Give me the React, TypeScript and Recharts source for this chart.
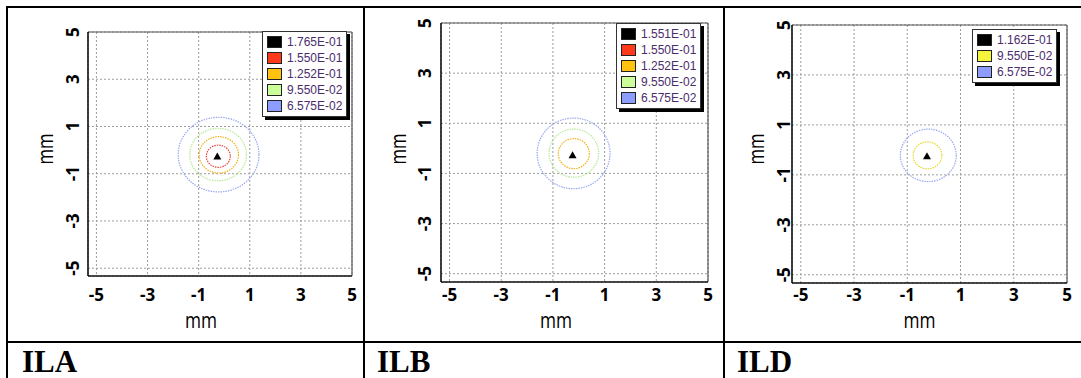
import React from 'react';
import { ScatterChart, Scatter, XAxis, YAxis, CartesianGrid, ReferenceArea, ReferenceLine, Legend, Label } from 'recharts';

// ---------- data ----------
const xTicks = [-5, -3, -1, 1, 3, 5];
const yTicks = [-5, -3, -1, 1, 3, 5];
const axisMin = -5.33;
const axisMax = 5;

const panelNames = ['ILA', 'ILB', 'ILD'];

const ilaLegendLabels = ['1.765E-01', '1.550E-01', '1.252E-01', '9.550E-02', '6.575E-02'];
const ilbLegendLabels = ['1.551E-01', '1.550E-01', '1.252E-01', '9.550E-02', '6.575E-02'];
const ildLegendLabels = ['1.162E-01', '9.550E-02', '6.575E-02'];

const ilaPeak = [{ x: -0.27, y: -0.27 }];
const ilbPeak = [{ x: -0.24, y: -0.27 }];
const ildPeak = [{ x: -0.26, y: -0.26 }];

// contour rings: legend level index, centre x, centre y, radius (mm)
const ilaRings = [
  { level: 1, cx: -0.23, cy: -0.26, r: 0.47 },
  { level: 2, cx: -0.21, cy: -0.2, r: 0.77 },
  { level: 3, cx: -0.24, cy: -0.19, r: 1.11 },
  { level: 4, cx: -0.22, cy: -0.19, r: 1.58 },
];
const ilbRings = [
  { level: 2, cx: -0.19, cy: -0.21, r: 0.6 },
  { level: 3, cx: -0.19, cy: -0.19, r: 0.96 },
  { level: 4, cx: -0.2, cy: -0.2, r: 1.41 },
];
const ildRings = [
  { level: 1, cx: -0.24, cy: -0.22, r: 0.54 },
  { level: 2, cx: -0.21, cy: -0.22, r: 1.05 },
];

// ---------- styles ----------
const fiveSwatch = ['#000000', '#ff3a1a', '#ffc20e', '#ccff99', '#8c9cff'];
const fiveRing = ['#000000', '#e4463c', '#f0b418', '#b8e898', '#9aa8f0'];
const threeSwatch = ['#000000', '#f5f53c', '#8c9cff'];
const threeRing = ['#000000', '#e2da30', '#9aa8f0'];

const panels = [
  {
    name: panelNames[0], labels: ilaLegendLabels, peak: ilaPeak, rings: ilaRings, swatch: fiveSwatch, ringColors: fiveRing,
    pl: 8, pr: 363, plot: { l: 88, r: 352, t: 32, b: 276 }, yTickCx: 73, yLabelCx: 47, xLabelCx: 201,
    legend: { l: 262, t: 31 }, titleX: 22,
  },
  {
    name: panelNames[1], labels: ilbLegendLabels, peak: ilbPeak, rings: ilbRings, swatch: fiveSwatch, ringColors: fiveRing,
    pl: 365, pr: 723, plot: { l: 441, r: 708, t: 23, b: 282 }, yTickCx: 425, yLabelCx: 400, xLabelCx: 556,
    legend: { l: 616, t: 23 }, titleX: 377,
  },
  {
    name: panelNames[2], labels: ildLegendLabels, peak: ildPeak, rings: ildRings, swatch: threeSwatch, ringColors: threeRing,
    pl: 725, pr: 1081, plot: { l: 792, r: 1067, t: 25, b: 283 }, yTickCx: 784, yLabelCx: 758, xLabelCx: 919.5,
    legend: { l: 972, t: 29 }, titleX: 737,
  },
];

const CH = 340;
const XH = 40;
const YW = 50;

const LegendBox = ({ labels, swatch }: { labels: string[]; swatch: string[] }) => (
  <div
    style={{
      display: 'inline-block',
      whiteSpace: 'nowrap',
      background: '#fff',
      border: '1px solid #333',
      boxShadow: '3px 3px 0 #000',
      padding: '2px 4px 2px 4px',
      fontFamily: '"Liberation Sans", Arial, sans-serif',
      fontSize: 12,
      color: '#4a2d6b',
    }}
  >
    {labels.map((lab, i) => (
      <div key={lab + i} style={{ display: 'flex', alignItems: 'center', height: 16 }}>
        <span
          style={{
            display: 'inline-block',
            flex: '0 0 auto',
            width: 13,
            height: 10,
            background: swatch[i],
            border: '1px solid #222',
            marginRight: 5,
          }}
        />
        <span>{lab}</span>
      </div>
    ))}
  </div>
);

const Panel = ({ p }: { p: (typeof panels)[number] }) => {
  const width = p.pr - p.pl;
  const margin = {
    top: p.plot.t,
    bottom: CH - p.plot.b - XH,
    left: p.plot.l - p.pl - YW,
    right: p.pr - p.plot.r,
  };
  const yTickBase = p.yTickCx - p.pl + 6;
  const yLabBase = p.yLabelCx - p.pl + 6;
  const xLabX = p.xLabelCx - p.pl;
  return (
    <div style={{ position: 'absolute', left: p.pl, top: 0 }}>
      <ScatterChart width={width} height={CH} margin={margin}>
        <CartesianGrid strokeDasharray="2 2" stroke="#9c9c9c" strokeWidth={1} />
        <XAxis
          type="number"
          dataKey="x"
          domain={[axisMin, axisMax]}
          ticks={xTicks}
          allowDataOverflow
          height={XH}
          axisLine={{ stroke: '#111', strokeWidth: 1.6 }}
          tickLine={false}
          interval={0}
          tick={(t: any) => (
            <text x={t.x} y={301} textAnchor="middle" fontFamily="Open Sans" fontWeight={700} fontSize={17} fill="#000">
              {t.payload.value}
            </text>
          )}
        >
          <Label
            content={() => (
              <text x={xLabX} y={328} textAnchor="middle" fontFamily="Open Sans" fontSize={21} textLength={32} lengthAdjust="spacingAndGlyphs" fill="#000">
                mm
              </text>
            )}
          />
        </XAxis>
        <YAxis
          type="number"
          dataKey="y"
          domain={[axisMin, axisMax]}
          ticks={yTicks}
          allowDataOverflow
          width={YW}
          axisLine={{ stroke: '#111', strokeWidth: 1.6 }}
          tickLine={false}
          interval={0}
          tick={(t: any) => (
            <text
              x={yTickBase}
              y={t.y}
              transform={`rotate(-90 ${yTickBase} ${t.y})`}
              textAnchor="middle"
              fontFamily="Open Sans"
              fontWeight={700}
              fontSize={17}
              fill="#000"
            >
              {t.payload.value}
            </text>
          )}
        >
          <Label
            content={() => (
              <text
                x={yLabBase}
                y={149}
                transform={`rotate(-90 ${yLabBase} 149)`}
                textAnchor="middle"
                fontFamily="Open Sans"
                fontSize={21}
                textLength={31}
                lengthAdjust="spacingAndGlyphs"
                fill="#000"
              >
                mm
              </text>
            )}
          />
        </YAxis>
        <ReferenceLine y={axisMax} stroke="#555" strokeWidth={1.2} />
        <ReferenceLine x={axisMax} stroke="#555" strokeWidth={1.2} />
        {p.rings.map((ring, i) => (
          <ReferenceArea
            key={i}
            x1={ring.cx - ring.r}
            x2={ring.cx + ring.r}
            y1={ring.cy - ring.r}
            y2={ring.cy + ring.r}
            shape={(s: any) => (
              <ellipse
                cx={s.x + s.width / 2}
                cy={s.y + s.height / 2}
                rx={Math.abs(s.width) / 2}
                ry={Math.abs(s.height) / 2}
                fill="none"
                stroke={p.ringColors[ring.level]}
                strokeWidth={1.2}
                strokeDasharray="1.5 1"
              />
            )}
          />
        ))}
        <Scatter
          data={p.peak}
          isAnimationActive={false}
          shape={(s: any) => (
            <polygon points={`${s.cx},${s.cy - 4} ${s.cx - 4},${s.cy + 3} ${s.cx + 4},${s.cy + 3}`} fill="#000" />
          )}
        />
        <Legend
          layout="vertical"
          align="center"
          verticalAlign="middle"
          wrapperStyle={{ left: p.legend.l - p.pl, top: p.legend.t, width: 'auto', height: 'auto' }}
          content={() => <LegendBox labels={p.labels} swatch={p.swatch} />}
        />
      </ScatterChart>
    </div>
  );
};

const line = (style: React.CSSProperties) => (
  <div style={{ position: 'absolute', background: '#000', ...style }} />
);

export default function App() {
  return (
    <div style={{ position: 'absolute', left: 0, top: 0, width: 1081, height: 378, background: '#fff', overflow: 'hidden' }}>
      {panels.map((p) => (
        <Panel key={p.name} p={p} />
      ))}
      {line({ left: 6, top: 6, width: 1075, height: 2 })}
      {line({ left: 6, top: 341, width: 1075, height: 2 })}
      {line({ left: 6, top: 6, width: 2, height: 372 })}
      {line({ left: 363, top: 6, width: 2, height: 372 })}
      {line({ left: 723, top: 6, width: 2, height: 372 })}
      {panels.map((p) => (
        <div
          key={'lab' + p.name}
          style={{
            position: 'absolute',
            left: p.titleX,
            top: 346,
            fontFamily: '"Liberation Serif", serif',
            fontWeight: 700,
            fontSize: 31,
            lineHeight: '31px',
            color: '#000',
          }}
        >
          {p.name}
        </div>
      ))}
    </div>
  );
}
